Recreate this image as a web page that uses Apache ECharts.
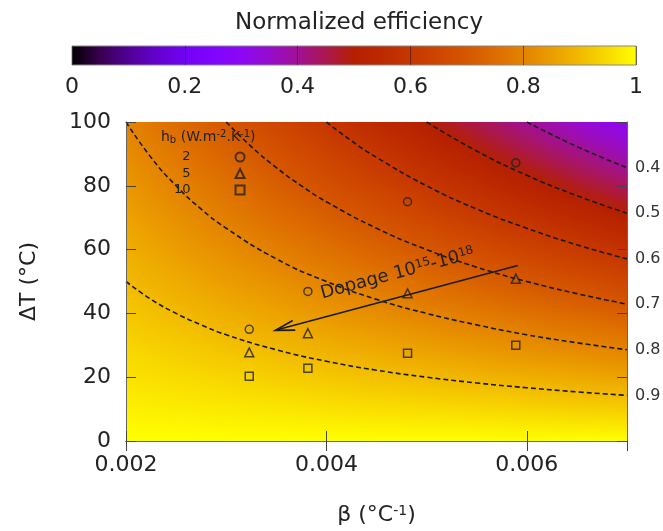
<!DOCTYPE html>
<html><head><meta charset="utf-8">
<script src="https://cdn.jsdelivr.net/npm/echarts@6/dist/echarts.min.js"></script>
<style>html,body{margin:0;padding:0;background:#fff}#c{width:663px;height:531px}</style>
</head><body><div id="c"></div>
<script>
// ---------- data ----------
const betaCenters = [0.002125,0.002375,0.002625,0.002875,0.003125,0.003375,0.003625,0.003875,0.004125,0.004375,
                     0.004625,0.004875,0.005125,0.005375,0.005625,0.005875,0.006125,0.006375,0.006625,0.006875];
const dTCenters = [2.5,7.5,12.5,17.5,22.5,27.5,32.5,37.5,42.5,47.5,52.5,57.5,62.5,67.5,72.5,77.5,82.5,87.5,92.5,97.5];
// normalized efficiency, one row per dTCenter, one column per betaCenter
const effRows = [
 [.995,.994,.993,.993,.992,.992,.991,.990,.990,.989,.988,.988,.987,.987,.986,.985,.985,.984,.983,.983],
 [.984,.982,.980,.978,.977,.975,.973,.971,.969,.967,.965,.963,.962,.960,.958,.956,.954,.952,.950,.948],
 [.973,.970,.967,.964,.961,.958,.955,.952,.948,.945,.942,.939,.936,.933,.930,.927,.923,.920,.917,.914],
 [.963,.958,.954,.950,.945,.941,.937,.932,.928,.923,.919,.915,.910,.906,.902,.897,.893,.888,.884,.880],
 [.952,.947,.941,.935,.930,.924,.918,.913,.907,.902,.896,.890,.885,.879,.873,.868,.862,.857,.851,.845],
 [.942,.935,.928,.921,.914,.907,.900,.893,.887,.880,.873,.866,.859,.852,.845,.838,.832,.825,.818,.811],
 [.931,.923,.915,.907,.898,.890,.882,.874,.866,.858,.850,.842,.833,.825,.817,.809,.801,.793,.785,.777],
 [.920,.911,.902,.892,.883,.873,.864,.855,.845,.836,.827,.817,.808,.798,.789,.780,.770,.761,.752,.742],
 [.910,.899,.888,.878,.867,.857,.846,.835,.825,.814,.803,.793,.782,.772,.761,.750,.740,.729,.718,.708],
 [.899,.887,.875,.863,.852,.840,.828,.816,.804,.792,.780,.768,.757,.745,.733,.721,.709,.697,.685,.673],
 [.888,.875,.862,.849,.836,.823,.810,.797,.783,.770,.757,.744,.731,.718,.705,.692,.678,.665,.652,.639],
 [.878,.863,.849,.835,.820,.806,.792,.777,.763,.748,.734,.720,.705,.691,.677,.662,.648,.633,.619,.605],
 [.867,.852,.836,.820,.805,.789,.773,.758,.742,.727,.711,.695,.680,.664,.648,.633,.617,.602,.586,.570],
 [.857,.840,.823,.806,.789,.772,.755,.738,.722,.705,.688,.671,.654,.637,.620,.603,.587,.570,.553,.536],
 [.846,.828,.810,.792,.773,.755,.737,.719,.701,.683,.665,.647,.628,.610,.592,.574,.556,.538,.520,.502],
 [.835,.816,.797,.777,.758,.738,.719,.700,.680,.661,.642,.622,.603,.583,.564,.545,.525,.506,.487,.467],
 [.825,.804,.783,.763,.742,.722,.701,.680,.660,.639,.618,.598,.577,.557,.536,.515,.495,.474,.453,.433],
 [.814,.792,.770,.748,.727,.705,.683,.661,.639,.617,.595,.573,.552,.530,.508,.486,.464,.442,.420,.398],
 [.803,.780,.757,.734,.711,.688,.665,.642,.618,.595,.572,.549,.526,.503,.480,.457,.433,.410,.387,.364],
 [.793,.768,.744,.720,.695,.671,.647,.622,.598,.573,.549,.525,.500,.476,.452,.427,.403,.378,.354,.330]
];
// iso-efficiency contours [beta, dT]
const contourLabels = ['0.9','0.8','0.7','0.6','0.5','0.4'];
const contour09 = [[0.002,50],[0.00225,44.4],[0.0025,40],[0.00275,36.4],[0.003,33.3],[0.0035,28.6],[0.004,25],[0.0045,22.2],[0.005,20],[0.0055,18.2],[0.006,16.7],[0.0065,15.4],[0.007,14.3]];
const contour08 = [[0.002,100],[0.00225,88.9],[0.0025,80],[0.00275,72.7],[0.003,66.7],[0.0035,57.1],[0.004,50],[0.0045,44.4],[0.005,40],[0.0055,36.4],[0.006,33.3],[0.0065,30.8],[0.007,28.6]];
const contour07 = [[0.003,100],[0.00325,92.3],[0.0035,85.7],[0.00375,80],[0.004,75],[0.0045,66.7],[0.005,60],[0.0055,54.5],[0.006,50],[0.0065,46.2],[0.007,42.9]];
const contour06 = [[0.004,100],[0.00425,94.1],[0.0045,88.9],[0.005,80],[0.0055,72.7],[0.006,66.7],[0.0065,61.5],[0.007,57.1]];
const contour05 = [[0.005,100],[0.0055,90.9],[0.006,83.3],[0.0065,76.9],[0.007,71.4]];
const contour04 = [[0.006,100],[0.0065,92.3],[0.007,85.7]];
// measured points, hb = 2, 5, 10 W.m-2.K-1
const legendNames = ['2','5','10'];
const hb2  = [[0.00323,35],[0.003815,46.9],[0.00481,75],[0.00589,87.2]];
const hb5  = [[0.00323,27.8],[0.003815,33.8],[0.00481,46.3],[0.00589,50.9]];
const hb10 = [[0.00323,20.3],[0.003815,22.8],[0.00481,27.5],[0.00589,30]];
// annotation (arrow from -> to, label anchor), data coordinates
const arrowFromTo = [[0.00591,55,0.00349,34.7]];
const dopageAnchor = [0.00471,52.5];
// colour scale
const cbRange = [[0,1]];
const palette = ['#000000','#39004f','#510096','#6301ce','#7202f3','#8004ff','#8c07f3','#970bce','#a11096','#ab174f',
                 '#b42000','#bd2a00','#c63700','#ce4600','#d55700','#dd6c00','#e48300','#eb9d00','#f2ba00','#f9db00','#ffff00'];

// ---------- build ----------
const FONT = 'DejaVu Sans';
const TXT = '#222';
const FS = 22;
const heatData = [];
dTCenters.forEach((t,i)=>betaCenters.forEach((b,j)=>heatData.push([b,t,effRows[i][j],i,j])));
const halfB = (betaCenters[1]-betaCenters[0])/2, halfT = (dTCenters[1]-dTCenters[0])/2;
const toColor = v => echarts.color.lerp(Math.max(0,Math.min(1,v)), palette);
function slope(arr, k){ // change of value per cell along arr
  const n = arr.length;
  if (k===0) return arr[1]-arr[0];
  if (k===n-1) return arr[n-1]-arr[n-2];
  return (arr[k+1]-arr[k-1])/2;
}

const chart = echarts.init(document.getElementById('c'), null, {renderer:'canvas'});
const contourSets = [contour09,contour08,contour07,contour06,contour05,contour04];
const contourSeries = contourSets.map((d,k)=>({
  type:'line', name:'c'+contourLabels[k], xAxisIndex:0, yAxisIndex:0, data:d, symbol:'none',
  smooth:0.5, silent:true, z:3,
  lineStyle:{color:'#1a1a1a', width:1.6, type:[5,3]},
  endLabel:{show:true, formatter:contourLabels[k], color:'#333', fontSize:16, fontFamily:FONT, distance:8},
  emphasis:{disabled:true}
}));
const symStyle = {color:'rgba(0,0,0,0)', borderColor:'#222', borderWidth:1.5};

chart.setOption({
  animation:false,
  textStyle:{fontFamily:FONT},
  title:{text:'Normalized efficiency', left:354, textAlign:'center', top:7,
         textStyle:{fontSize:23, fontWeight:'normal', color:TXT, fontFamily:FONT}},
  grid:[{left:126, top:122, width:501, height:320},
        {left:72, top:46, width:564, height:19}],
  legend:{data:legendNames, orient:'vertical', align:'right', left:174, top:150, padding:0,
          itemWidth:9, itemHeight:9, itemGap:2.5,
          textStyle:{fontSize:13, color:TXT, fontFamily:FONT, lineHeight:14, padding:[0,40,0,0]}},
  graphic:[{type:'text', left:161, top:129, z:100,
    style:{text:'h{sub|b} (W.m{sup|-2}.K{sup|-1})', fontSize:14, fontFamily:FONT, fill:TXT,
      rich:{sub:{fontSize:10, fontFamily:FONT, fill:TXT, verticalAlign:'bottom', padding:[6,0,0,0]},
            sup:{fontSize:10, fontFamily:FONT, fill:TXT, verticalAlign:'top', padding:[0,0,6,0]}}}}],
  xAxis:[
    {type:'value', gridIndex:0, min:0.002, max:0.007, interval:0.002, position:'bottom', z:6,
     axisLine:{show:true, lineStyle:{color:'#666', width:1}},
     axisTick:{show:true, inside:true, length:10, lineStyle:{color:'#444'}},
     axisLabel:{fontSize:FS, color:TXT, margin:13, showMaxLabel:false, formatter:v=>v.toFixed(3)},
     splitLine:{show:false},
     name:'β (°C{sup|-1})', nameLocation:'middle', nameGap:63,
     nameTextStyle:{fontSize:FS, color:TXT, fontFamily:FONT,
       rich:{sup:{fontSize:14, color:TXT, fontFamily:FONT, verticalAlign:'top', padding:[0,0,8,0]}}}},
    {type:'value', gridIndex:0, min:0.002, max:0.007, interval:0.002, position:'top', z:6,
     axisLine:{show:true, lineStyle:{color:'#666', width:1}},
     axisTick:{show:true, inside:true, length:10, lineStyle:{color:'#444'}},
     axisLabel:{show:false}, splitLine:{show:false}},
    {type:'value', gridIndex:1, min:0, max:1, interval:0.2, position:'bottom', z:6,
     axisLine:{show:false},
     axisTick:{show:true, inside:true, length:19, lineStyle:{color:'rgba(40,20,20,0.55)'}},
     axisLabel:{fontSize:FS, color:TXT, margin:11, formatter:v=>(v===0||v===1)?String(v):v.toFixed(1)},
     splitLine:{show:false}}
  ],
  yAxis:[
    {type:'value', gridIndex:0, min:0, max:100, interval:20, position:'left', z:6,
     axisLine:{show:true, lineStyle:{color:'#666', width:1}},
     axisTick:{show:true, inside:true, length:10, lineStyle:{color:'#444'}},
     axisLabel:{fontSize:FS, color:TXT, margin:15},
     splitLine:{show:false},
     name:'ΔT (°C)', nameLocation:'middle', nameGap:86, nameRotate:90,
     nameTextStyle:{fontSize:FS, color:TXT, fontFamily:FONT}},
    {type:'value', gridIndex:0, min:0, max:100, interval:20, position:'right', z:6,
     axisLine:{show:true, lineStyle:{color:'#666', width:1}},
     axisTick:{show:true, inside:true, length:10, lineStyle:{color:'#444'}},
     axisLabel:{show:false}, splitLine:{show:false}},
    {type:'value', gridIndex:1, min:0, max:1, show:false}
  ],
  series:[
    {type:'custom', name:'eff', xAxisIndex:0, yAxisIndex:0, data:heatData, z:1, silent:true, clip:true,
     encode:{x:0, y:1},
     renderItem:(params, api)=>{
       const b=api.value(0), t=api.value(1), v=api.value(2), i=api.value(3), j=api.value(4);
       const p0=api.coord([b-halfB, t-halfT]), p1=api.coord([b+halfB, t+halfT]);
       const w=p1[0]-p0[0], h=p0[1]-p1[1];
       const cx=(p0[0]+p1[0])/2, cy=(p0[1]+p1[1])/2;
       const gx=slope(effRows[i], j);
       const gy=slope(effRows.map(r=>r[j]), i);
       const ax=gx/w, ay=-gy/h;
       const D=Math.abs(gx)/2+Math.abs(gy)/2, a2=ax*ax+ay*ay;
       let fill;
       if (a2<1e-14) fill=toColor(v);
       else {
         const s=D/a2;
         fill=new echarts.graphic.LinearGradient(cx-ax*s, cy-ay*s, cx+ax*s, cy+ay*s,
           [{offset:0,color:toColor(v-D)},{offset:0.5,color:toColor(v)},{offset:1,color:toColor(v+D)}], true);
       }
       return {type:'rect', shape:{x:p0[0]-0.5, y:p1[1]-0.5, width:w+1, height:h+1}, style:{fill:fill}};
     }},
    ...contourSeries,
    {type:'scatter', name:'2', xAxisIndex:0, yAxisIndex:0, data:hb2, symbol:'circle', symbolSize:8, z:4, itemStyle:symStyle},
    {type:'scatter', name:'5', xAxisIndex:0, yAxisIndex:0, data:hb5, symbol:'triangle', symbolSize:9, z:4, itemStyle:symStyle},
    {type:'scatter', name:'10', xAxisIndex:0, yAxisIndex:0, data:hb10, symbol:'rect', symbolSize:8, z:4, itemStyle:symStyle},
    {type:'custom', name:'arrow', xAxisIndex:0, yAxisIndex:0, data:arrowFromTo, z:5, silent:true, clip:false,
     encode:{x:[0,2], y:[1,3]},
     renderItem:(params, api)=>{
       const s=api.coord([api.value(0),api.value(1)]), e=api.coord([api.value(2),api.value(3)]);
       const ang=Math.atan2(s[1]-e[1], s[0]-e[0]);
       const L=20, a=0.25;
       const h1=[e[0]+L*Math.cos(ang+a), e[1]+L*Math.sin(ang+a)];
       const h2=[e[0]+L*Math.cos(ang-a), e[1]+L*Math.sin(ang-a)];
       const tp=api.coord(dopageAnchor);
       return {type:'group', children:[
         {type:'line', shape:{x1:s[0],y1:s[1],x2:e[0],y2:e[1]}, style:{stroke:'#1a1a1a', lineWidth:1.6}},
         {type:'polyline', shape:{points:[h1,e,h2]}, style:{stroke:'#1a1a1a', lineWidth:1.6, fill:null}},
         {type:'text', x:tp[0], y:tp[1], rotation:-ang,
          style:{text:'Dopage 10{sup|15}-10{sup|18}', fontSize:18, fontFamily:FONT, fill:'#222',
                 align:'center', verticalAlign:'middle',
                 rich:{sup:{fontSize:12, fontFamily:FONT, fill:'#222', verticalAlign:'top', padding:[0,0,7,0]}}}}
       ]};
     }},
    {type:'custom', name:'colorbar', xAxisIndex:2, yAxisIndex:2, data:cbRange, z:1, silent:true,
     encode:{x:[0,1]},
     renderItem:(params, api)=>{
       const cs=params.coordSys;
       const x0=api.coord([api.value(0),0])[0], x1=api.coord([api.value(1),0])[0];
       const stops=palette.map((c,i)=>({offset:i/(palette.length-1), color:c}));
       return {type:'rect', shape:{x:x0, y:cs.y, width:x1-x0, height:cs.height},
               style:{fill:new echarts.graphic.LinearGradient(0,0,1,0,stops), stroke:'#888', lineWidth:1}};
     }}
  ]
});
</script></body></html>
